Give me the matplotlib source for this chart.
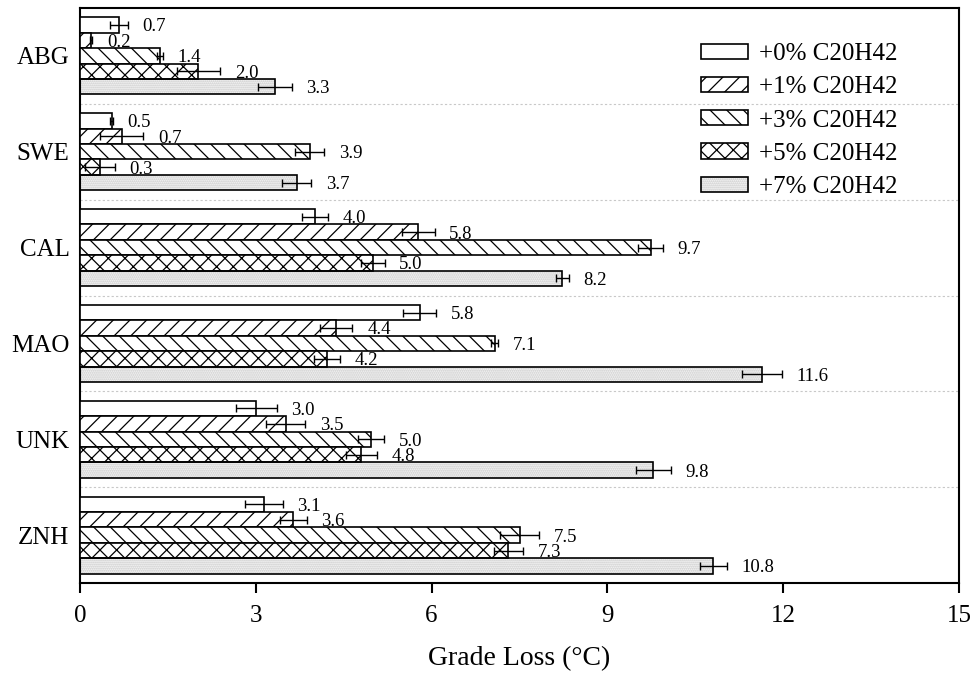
import numpy as np
import matplotlib
matplotlib.use("Agg")
import matplotlib.pyplot as plt
from matplotlib.legend_handler import HandlerTuple

plt.rcParams['font.family'] = ['Liberation Serif', 'DejaVu Serif']

# categories from top to bottom
sites = ["ABG", "SWE", "CAL", "MAO", "UNK", "ZNH"]
series = ["+0% C20H42", "+1% C20H42", "+3% C20H42", "+5% C20H42", "+7% C20H42"]

# grade loss (°C), one list per wax content, order as in sites
loss_0 = [0.67, 0.54, 4.01, 5.80, 3.01, 3.14]
loss_1 = [0.19, 0.71, 5.77, 4.37, 3.51, 3.64]
loss_3 = [1.36, 3.92, 9.74, 7.08, 4.97, 7.50]
loss_5 = [2.02, 0.34, 5.00, 4.22, 4.80, 7.31]
loss_7 = [3.32, 3.70, 8.23, 11.64, 9.78, 10.81]

# standard deviations
err_0 = [0.15, 0.02, 0.22, 0.28, 0.35, 0.32]
err_1 = [0.02, 0.37, 0.28, 0.28, 0.33, 0.23]
err_3 = [0.05, 0.25, 0.21, 0.06, 0.22, 0.33]
err_5 = [0.37, 0.25, 0.20, 0.22, 0.26, 0.25]
err_7 = [0.29, 0.25, 0.11, 0.34, 0.30, 0.23]

values = [loss_0, loss_1, loss_3, loss_5, loss_7]
errors = [err_0, err_1, err_3, err_5, err_7]
hatches = ["", "//", "\\\\", "xx", None]

plt.rcParams['hatch.linewidth'] = 0.9

fig = plt.figure(figsize=(9.76, 6.73), dpi=100)
ax = fig.add_axes([80 / 976, 1 - 583 / 673, 879 / 976, 575 / 673])

n = len(sites)
ypos = np.arange(n)[::-1]  # ABG on top
h = 0.161
handles = []
for k, (vals, errs) in enumerate(zip(values, errors)):
    y = ypos + (2 - k) * h
    if hatches[k] is None:
        # dotted light grey fill, drawn under a black outline
        dots = ax.barh(y, vals, height=h, color="#f4f4f4", edgecolor="#c8c8c8",
                       hatch="........", linewidth=0, zorder=2)
        outline = ax.barh(y, vals, height=h, fill=False, edgecolor="black",
                          linewidth=1.2, zorder=3)
        handles.append((dots[0], outline[0]))
    else:
        bars = ax.barh(y, vals, height=h, color="white", edgecolor="black",
                       hatch=hatches[k], linewidth=1.2, zorder=3)
        handles.append(bars[0])
    ax.errorbar(vals, y, xerr=errs, fmt="none", ecolor="black", elinewidth=1.0,
                capsize=3.2, capthick=1.0, zorder=4)
    for v, e, yy in zip(vals, errs, y):
        ax.text(v + e + 0.25, yy - 0.02, f"{v:.1f}", va="center", ha="left",
                fontsize=13.5, zorder=5)

ax.set_xlim(0, 15)
ax.set_ylim(-0.5, n - 0.5)
ax.set_xticks([0, 3, 6, 9, 12, 15])
ax.set_yticks(ypos)
ax.set_yticklabels(sites)
ax.set_yticks(np.arange(0.5, n - 1, 1.0), minor=True)
ax.grid(True, axis="y", which="minor", linestyle=(0, (2, 2)), color="#c8c8c8", linewidth=0.8)
ax.tick_params(axis="x", direction="out", length=7, width=1.5, labelsize=18, pad=8.5)
ax.tick_params(axis="y", which="both", length=0, labelsize=18, pad=7.5)
for s in ax.spines.values():
    s.set_linewidth(1.5)
ax.set_xlabel("Grade Loss (°C)", fontsize=20, labelpad=14)

ax.legend(handles, series, handler_map={tuple: HandlerTuple(ndivide=1)},
          loc="upper left", bbox_to_anchor=(0.706, 0.939), frameon=False,
          fontsize=18, handlelength=1.9, handleheight=0.55, labelspacing=0.45,
          handletextpad=0.45, borderpad=0, borderaxespad=0)

fig.savefig("out.png", dpi=100)
